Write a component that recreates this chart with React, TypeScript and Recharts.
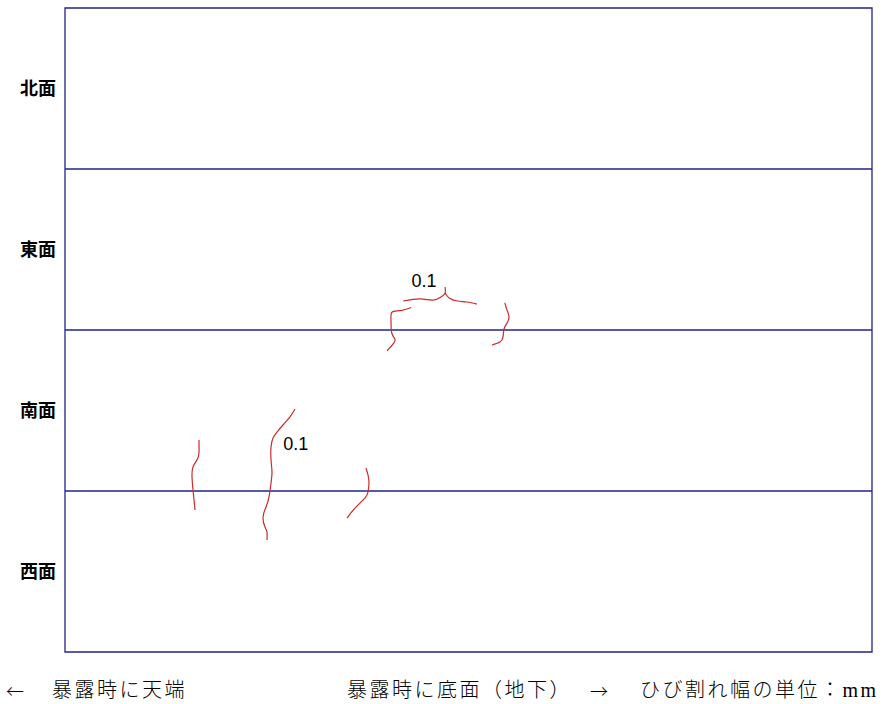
import React from 'react';
import { ComposedChart, Line, XAxis, YAxis, ReferenceLine, ReferenceArea, Scatter } from 'recharts';

// Faces (rows, top to bottom) and row boundaries in plot units (x: 0-1000 along length, y: 0-400)
const faceNames = ['西面', '南面', '東面', '北面'];
const faceTicks = [50, 150, 250, 350];
const rowBoundaries = [100, 200, 300];

// Crack traces (x along length, y across the four faces)
const crackA = [
  { x: 429, y: 214 }, { x: 415, y: 212 }, { x: 405, y: 211 }, { x: 404, y: 205 },
  { x: 405, y: 198 }, { x: 409, y: 194 }, { x: 406, y: 191 }, { x: 399, y: 187 },
];
const crackBLeft = [
  { x: 419, y: 218 }, { x: 440, y: 219.3 }, { x: 456, y: 218.6 }, { x: 466, y: 220.5 },
  { x: 471, y: 223 }, { x: 471, y: 226.7 },
];
const crackBRight = [
  { x: 471, y: 223 }, { x: 476, y: 219.9 }, { x: 486, y: 218 }, { x: 498, y: 217.4 }, { x: 510.5, y: 216.1 },
];
const crackC = [
  { x: 545, y: 216.8 }, { x: 547.7, y: 212.4 }, { x: 550.2, y: 208.1 }, { x: 547.7, y: 204.3 },
  { x: 544, y: 200.6 }, { x: 542.8, y: 195.7 }, { x: 539, y: 192.5 }, { x: 529, y: 190.7 },
];
const crackD = [
  { x: 166, y: 131.7 }, { x: 166, y: 123.6 }, { x: 163.6, y: 119.3 }, { x: 158.6, y: 114.9 },
  { x: 157.4, y: 108.7 }, { x: 158.6, y: 100.6 }, { x: 159.9, y: 94.4 }, { x: 161.1, y: 88.2 },
];
const crackE = [
  { x: 285, y: 150.9 }, { x: 278.8, y: 146 }, { x: 270.1, y: 141 }, { x: 262.7, y: 136.6 },
  { x: 257.8, y: 132.9 }, { x: 255.3, y: 127.3 }, { x: 255.3, y: 119.3 }, { x: 256.5, y: 111.8 },
  { x: 255.3, y: 105 }, { x: 252.8, y: 96.3 }, { x: 249.1, y: 90.1 }, { x: 245.4, y: 83.9 },
  { x: 247.8, y: 77.6 }, { x: 250.3, y: 74.5 }, { x: 250.3, y: 69.6 },
];
const crackF = [
  { x: 373, y: 114.3 }, { x: 375.5, y: 109.9 }, { x: 376.7, y: 105 }, { x: 375.5, y: 99.4 },
  { x: 371.8, y: 95.7 }, { x: 359.4, y: 89.4 }, { x: 349.5, y: 83.2 },
];
const cracks = [crackA, crackBLeft, crackBRight, crackC, crackD, crackE, crackF];

// Crack width labels (mm)
const widthLabels = [
  { x: 445, y: 230.4, text: '0.1' },
  { x: 286, y: 129.2, text: '0.1' },
];

// Footer captions
const footerTexts = [
  { left: 52, text: '暴露時に天端' },
  { left: 347, text: '暴露時に底面（地下）' },
  { left: 640, text: 'ひび割れ幅の単位：mm' },
];
const footerArrows = [
  { left: 6, text: '←' },
  { left: 590, text: '→' },
];

const NAVY = '#22228f';
const RED = '#cc2b2b';

const LabelShape = (props: any) => {
  const { cx, cy, payload } = props;
  return (
    <text x={cx} y={cy} textAnchor="middle" dominantBaseline="central"
      fontSize={18} fontFamily="'Liberation Sans', Arial, sans-serif" fill="#000">
      {payload.text}
    </text>
  );
};

export default function App() {
  return (
    <div style={{ position: 'absolute', left: 0, top: 0, width: 882, height: 704, background: '#fff' }}>
      <ComposedChart width={882} height={704} margin={{ top: 8, right: 10, bottom: 52, left: 0 }}>
        <XAxis type="number" dataKey="x" domain={[0, 1000]} hide allowDataOverflow />
        <YAxis type="number" dataKey="y" domain={[0, 400]} ticks={faceTicks} width={65}
          tickFormatter={(v: number) => faceNames[faceTicks.indexOf(v)]}
          axisLine={false} tickLine={false} tickSize={0} tickMargin={9}
          tick={{ fill: '#000', fontSize: 18, fontFamily: "'Noto Sans CJK JP', sans-serif", fontWeight: 600 }}
          allowDataOverflow />
        <ReferenceArea x1={0} x2={1000} y1={0} y2={400} fill="none" stroke={NAVY} strokeWidth={1.3} fillOpacity={0} />
        {rowBoundaries.map((b) => (
          <ReferenceLine key={b} y={b} stroke={NAVY} strokeWidth={1.3} />
        ))}
        {cracks.map((c, i) => (
          <Line key={i} data={c} dataKey="y" type="natural" stroke={RED} strokeWidth={1.2}
            dot={false} activeDot={false} isAnimationActive={false} />
        ))}
        <Scatter data={widthLabels} dataKey="y" shape={LabelShape} isAnimationActive={false} />
      </ComposedChart>
      {footerTexts.map((t, i) => (
        <span key={i} style={{
          position: 'absolute', left: t.left, top: 677, fontSize: 20, whiteSpace: 'nowrap', letterSpacing: 2.5,
          fontFamily: "'Liberation Serif', 'Noto Sans CJK JP', serif", fontWeight: 300, color: '#000', lineHeight: '26px',
        }}>{t.text}</span>
      ))}
      {footerArrows.map((t, i) => (
        <span key={'a' + i} style={{
          position: 'absolute', left: t.left, top: 677, fontSize: 18, whiteSpace: 'nowrap',
          fontFamily: "'Noto Sans CJK JP', sans-serif", fontWeight: 300, color: '#000', lineHeight: '26px',
        }}>{t.text}</span>
      ))}
    </div>
  );
}
